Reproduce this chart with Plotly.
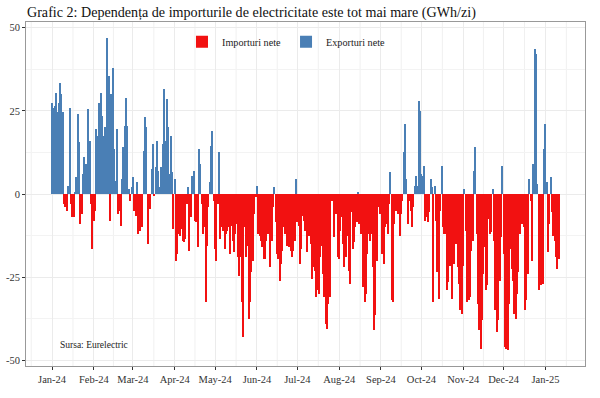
import pandas as pd
import plotly.graph_objects as go

start_date = "2024-01-01"

# Daily net balance (GWh/zi): positive = net exports, negative = net imports
seg_jan_mar = [
    27.5, 26, 26.5, 30.5, 24.5, 27.5, 33.5, 30, 24.5,
    -3, -4, -5, 2.5, 26, -3, -7, -7, 0.5, 5, 24, 15.5, -9, -6, 6, 11, 9, 2.5, 25.5, 16,
    -3, -16.5, -8, -5, 19.5, 17.5, 27.5, 30.5, 23.5, 17.5, 20, 17, 47, 35.5, -8, 30, 38,
    13.5, 4, 19.5, -6, -5, -9.5, 4.5, 14, 20.5, 29, 20.5, 1.5, -2, 2, 5, -5, -6.5, 3.5,
    -12, -11, -10, -10, 13, 23, 20, -15, -2, -4.5, 7.5, 15, -0.5, 8, 16, 7, 2, 8, 15,
    31.5, 16, 28.5, 20, 6, 17.5, 6.5, -10.5, 4.5,
]
seg_apr_jun = [
    -20, -18, -12, -12.5, -10.5, -14, -14.5, -13.5, -3, 2, -17, -7, 5.5, 7, -8, -8.5,
    -16, 13.5, 9, -3, -12, -10, -32.5, -15.5, -4, 3.5, 14.5, 19, -2, -16.5, -20, -3,
    12.5, -13.5, -10, -11, -16.5, -12, -11, -10, -18, -9.5, -14, -17.5, -12, -9, -19,
    -24.5, -19, -32.5, -43, -10, -19, -15.5, -37.5, -32.5, -23.5, -20, -6, -1, 2.5,
    -12, -12.5, -14, -16, -19.5, -19.5, -14, -12, -8, -22, -14, -4, 2, -8.5, -18,
    -19.5, -26, -21, -17, -10, -12, -15.5,
]
seg_jun_sep = [
    -13, -16, -17, -19, -17, -14, 4.5, -8.5, -9.5, -21, -16.5, -6.5, -8, -11, -17.5,
    -11, -12.5, -15, -25.5, -22, -23, -31, -29, -30, -19, -15.5, -24, -31, -39, -40.5,
    -33, -31, -2, -2, -13, -2.5, -6, -19, -19.5, -11, -7, -15, -22, -19, -12.5, -23,
    -27, -5.5, -16.5, -14.5, -10, -8.5, 0.5, -9, -12, -8, -28, -32.5, -30, -18, -12,
    -14, -12, -22, -41, -36.5, -20, -4, -6, -2, -18, -21, -10, -9, -12, -3, 6.5,
    -32, -32.5,
]
seg_sep_nov = [
    -9, -5, -5, -6, -12.5, -6, -2, 12.5, 21, 4.5, -9, -2, -5, -10, -4, 2.5, 5.5, 2.5,
    28, 25, 6, 5.5, 8.5, -8, -7, -8.5, -5.5, 4.5, 2, -32.5, 2.5, -8, -23.5, -31.5, -5,
    8.5, -10, -12, -12, -29, -26.5, -21.5, -20, -31.5, -21, -10, -15, -22, -27, -35,
    -36, -21.5, 1.5, -11, -32.5, -32, -31, -17, -14, 7, 14, -12, -33, -41, -46.5, -38,
    -24, -16, -29, -27.5, -7.5, -12, -11.5, 1.5, -14, -35, -41.5,
]
seg_nov_jan = [
    -38, -26, -13, 8.5, -18, -46, -46.5, -47, -33, -16.5, -22.5, -26, -36, -37.5, -30,
    -23.5, -12, -7, -9, -10, -35, -32, -24, 4.5, -2, -20, 9, 43.5, 42, 3, -29, -27.5,
    -27.5, -27, 13.5, 21, 3.5, -17.5, -9, 5, -5.5, -12.5, -14, -19, -22.5, -19.5,
]

y_tick_values = [-50, -25, 0, 25, 50]
y_tick_labels = ["-50", "-25", "0", "25", "50"]

values = seg_jan_mar + seg_apr_jun + seg_jun_sep + seg_sep_nov + seg_nov_jan
dates = pd.date_range(start_date, periods=len(values), freq="D")

imports = [v if v < 0 else None for v in values]
exports = [v if v >= 0 else None for v in values]

series_names = ["Importuri nete", "Exporturi nete"]
series_colors = ["#f21111", "#4a7fb5"]

FONT = "Liberation Serif"
DAY_MS = 86400000

fig = go.Figure()
fig.add_trace(go.Bar(x=dates, y=imports, name=series_names[0],
                     marker=dict(color=series_colors[0], line=dict(width=0)),
                     width=0.9 * DAY_MS))
fig.add_trace(go.Bar(x=dates, y=exports, name=series_names[1],
                     marker=dict(color=series_colors[1], line=dict(width=0)),
                     width=0.9 * DAY_MS))

t0 = pd.Timestamp(start_date)
n = len(values)
span = n
xr0 = t0 + pd.Timedelta(days=-0.5 - 0.05 * span)
xr1 = t0 + pd.Timedelta(days=(n - 1) + 0.5 + 0.05 * span)

# minor vertical gridlines midway between month starts
month_starts = pd.date_range("2023-12-01", "2025-03-01", freq="MS")
shapes = []
for a, b in zip(month_starts[:-1], month_starts[1:]):
    mid = a + (b - a) / 2
    shapes.append(dict(type="line", xref="x", yref="paper", x0=mid, x1=mid,
                       y0=0, y1=1, line=dict(color="#f0f0f0", width=1), layer="below"))

fig.update_layout(
    width=600, height=398,
    margin=dict(l=26, r=15, t=22, b=32, autoexpand=False),
    paper_bgcolor="white", plot_bgcolor="white",
    barmode="relative", bargap=0,
    font=dict(family=FONT, color="#333333", size=10),
    title=dict(text="Grafic 2: Dependența de importurile de electricitate este tot mai mare (GWh/zi)",
               x=0.045, xanchor="left", xref="container", y=0.97, yanchor="middle",
               pad=dict(l=0, r=0, t=0, b=0),
               font=dict(family=FONT, size=14.1, color="#111111")),
    legend=dict(orientation="h", x=0.466, xanchor="center", y=0.985, yanchor="top",
                bgcolor="rgba(0,0,0,0)", font=dict(size=10.2, color="#222222"),
                itemsizing="constant"),
    shapes=shapes,
    annotations=[dict(text="Sursa: Eurelectric", x=pd.Timestamp("2024-02-01"), y=-45.3,
                      xref="x", yref="y", showarrow=False, xanchor="center",
                      font=dict(size=9.5, color="#222222", family=FONT))],
)
fig.update_xaxes(
    type="date", range=[xr0, xr1], tick0="2024-01-01", dtick="M1", tickformat="%b-%y",
    showgrid=True, gridcolor="#ebebeb", gridwidth=1, automargin=False,
    ticks="outside", ticklen=3, tickcolor="#333333",
    showline=True, linecolor="#999999", mirror=True, linewidth=1,
    tickfont=dict(size=10.5, color="#333333"), zeroline=False,
)
fig.update_yaxes(
    range=[-51.7, 51.7], tickvals=y_tick_values, ticktext=y_tick_labels, automargin=False,
    showgrid=True, gridcolor="#ebebeb", gridwidth=1,
    minor=dict(dtick=12.5, tick0=0, showgrid=True, gridcolor="#f3f3f3"),
    ticks="outside", ticklen=3, tickcolor="#333333",
    showline=True, linecolor="#999999", mirror=True, linewidth=1,
    tickfont=dict(size=10.5, color="#333333"), zeroline=False,
)

fig.write_html("out.html", config={"displayModeBar": False},
               post_script="document.body.style.margin='0';")
